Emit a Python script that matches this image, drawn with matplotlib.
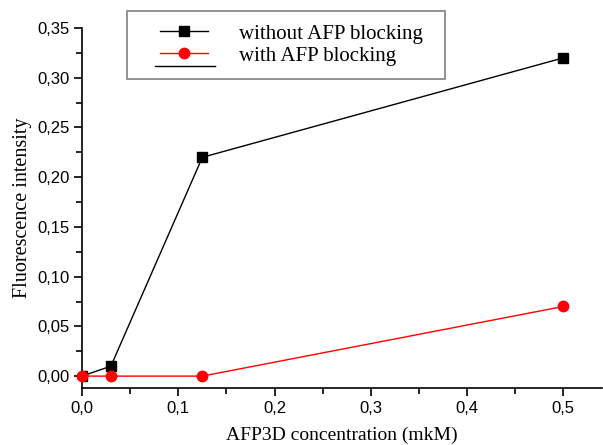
import matplotlib
matplotlib.use("Agg")
import matplotlib.pyplot as plt
from matplotlib.lines import Line2D
from matplotlib.patches import Rectangle
from matplotlib.ticker import MultipleLocator, FuncFormatter

conc = [0.0, 0.03, 0.125, 0.5]
without_block = [0.0, 0.01, 0.22, 0.32]
with_block = [0.0, 0.0, 0.0, 0.07]

W, H = 603, 445
fig = plt.figure(figsize=(W / 100, H / 100), dpi=100)
ax = fig.add_axes([0.136, 0.128, 0.862, 0.809])

ax.plot(conc, without_block, color='black', lw=1, marker='s', ms=6.5, zorder=3)
ax.plot(conc, with_block, color='red', lw=1, marker='o', ms=7.5, zorder=3, clip_on=False)

ax.set_xlim(0, 0.54)
ax.set_ylim(-0.012, 0.35)
ax.xaxis.set_major_locator(MultipleLocator(0.1))
ax.xaxis.set_minor_locator(MultipleLocator(0.05))
ax.yaxis.set_major_locator(MultipleLocator(0.05))
ax.yaxis.set_minor_locator(MultipleLocator(0.025))
ax.xaxis.set_major_formatter(FuncFormatter(lambda v, p: f"{v:.1f}".replace('.', ',')))
ax.yaxis.set_major_formatter(FuncFormatter(lambda v, p: f"{v:.2f}".replace('.', ',')))

for s in ['top', 'right']:
    ax.spines[s].set_visible(False)
for s in ['left', 'bottom']:
    ax.spines[s].set_linewidth(1.2)
ax.tick_params(which='major', direction='out', length=6, width=1.2, pad=3)
ax.tick_params(which='minor', direction='out', length=4, width=1.2)
for lab in ax.get_xticklabels() + ax.get_yticklabels():
    lab.set_fontfamily('Liberation Sans')
    lab.set_fontsize(12)

ax.set_xlabel('AFP3D concentration (mkM)', family='Liberation Serif', fontsize=14, labelpad=8)
ax.set_ylabel('Fluorescence intensity', family='Liberation Serif', fontsize=14.5, labelpad=4)

# legend frame drawn separately (figure pixels -> fraction)
fig.patches.append(Rectangle((127 / W, 1 - 79 / H), (445 - 127) / W, 68 / H,
                             transform=fig.transFigure, fill=False,
                             edgecolor='gray', lw=1.2))
# stray line under the legend entries
fig.lines.append(Line2D([155 / W, 215 / W], [1 - 66 / H, 1 - 66 / H],
                        transform=fig.transFigure, color='black', lw=1))

handles = [
    Line2D([], [], color='black', lw=1, marker='s', ms=6.5),
    Line2D([], [], color='red', lw=1, marker='o', ms=7.5),
]
labels = ['without AFP blocking', 'with AFP blocking']
fig.legend(handles, labels, loc='upper left',
           bbox_to_anchor=(160 / W, 1 - 24 / H), frameon=False,
           prop={'family': 'Liberation Serif', 'size': 15},
           handlelength=2.3, handletextpad=1.5, labelspacing=0.12,
           borderpad=0, borderaxespad=0)

fig.savefig('out.png', dpi=100)
